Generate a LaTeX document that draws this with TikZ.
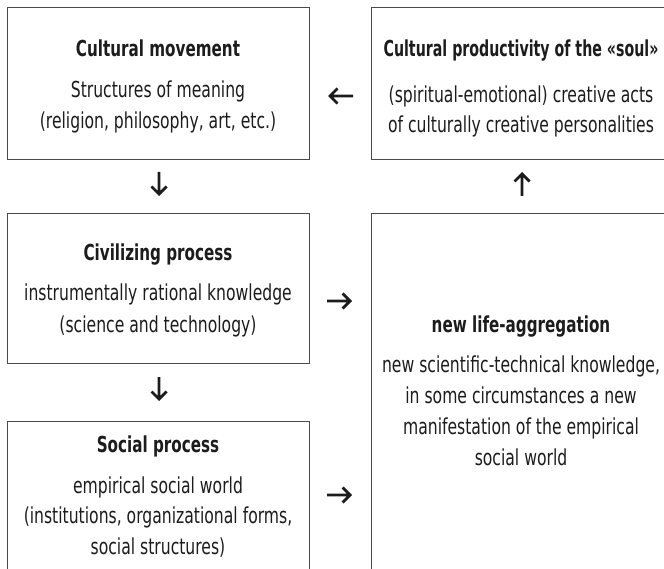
\documentclass[tikz,border=0pt]{standalone}
\usepackage{graphicx}
\usepackage{fontspec}
\setmainfont{DejaVu Sans}[FakeStretch=0.71, BoldFeatures={FakeStretch=0.69}]
\usetikzlibrary{calc}
\definecolor{ink}{HTML}{1C1C1C}
\definecolor{frame}{HTML}{4A4A4A}
\tikzset{flowfill/.style={fill=ink, draw=none}}
% solid arrow with a chevron head, drawn as one filled outline
% #1 = start, #2 = tip, #3 = direction (1 right, -1 left)
\newcommand\flowH[3]{%
  \fill[flowfill] (#2)
    -- ([xshift={-8.5pt*(#3)}, yshift=8.5pt]#2)
    -- ([xshift={-10.48pt*(#3)}, yshift=6.52pt]#2)
    -- ([xshift={-5.36pt*(#3)}, yshift=1.4pt]#2)
    -- ([yshift=1.4pt]#1) -- ([yshift=-1.4pt]#1)
    -- ([xshift={-5.36pt*(#3)}, yshift=-1.4pt]#2)
    -- ([xshift={-10.48pt*(#3)}, yshift=-6.52pt]#2)
    -- ([xshift={-8.5pt*(#3)}, yshift=-8.5pt]#2) -- cycle;}
% #1 = start, #2 = tip, #3 = direction (1 down, -1 up)
\newcommand\flowV[3]{%
  \fill[flowfill] (#2)
    -- ([yshift={8.5pt*(#3)}, xshift=8.5pt]#2)
    -- ([yshift={10.48pt*(#3)}, xshift=6.52pt]#2)
    -- ([yshift={5.36pt*(#3)}, xshift=1.4pt]#2)
    -- ([xshift=1.4pt]#1) -- ([xshift=-1.4pt]#1)
    -- ([yshift={5.36pt*(#3)}, xshift=-1.4pt]#2)
    -- ([yshift={10.48pt*(#3)}, xshift=-6.52pt]#2)
    -- ([yshift={8.5pt*(#3)}, xshift=-8.5pt]#2) -- cycle;}
\begin{document}
\begin{tikzpicture}[x=1pt,y=-1pt,
  box/.style={draw=frame, line width=1.1pt, rectangle, inner sep=0pt, anchor=north west},
  ttl/.style={anchor=base, inner sep=0pt, text=ink, font=\fontsize{22}{31}\selectfont\bfseries},
  txt/.style={anchor=base, inner sep=0pt, text=ink, font=\fontsize{22}{31}\selectfont}]
\useasboundingbox (0,0) rectangle (664,569);
\clip (0,0) rectangle (664,569);

% frames
\node[box, minimum width=302pt, minimum height=152pt] (cult) at (7,7) {};
\node[box, minimum width=300pt, minimum height=152pt] (soul) at (371,7) {};
\node[box, minimum width=302pt, minimum height=150pt] (civ) at (7,213) {};
\node[box, minimum width=302pt, minimum height=170pt] (soc) at (7,421) {};
\node[box, minimum width=300pt, minimum height=380pt] (life) at (371,213) {};

% Cultural movement
\node[ttl] (cultT) at (158,57) {Cultural movement};
\node[txt] (cult1) at (158,98) {Structures of meaning};
\node[txt] (cult2) at (158,129) {(religion, philosophy, art, etc.)};

% Cultural productivity (title narrowed to stay inside the frame)
\node[ttl] (soulT) at (521,57) {\scalebox{0.935}[1]{Cultural productivity of the «soul»}};
\node[txt] (soul1) at (521,103) {(spiritual-emotional) creative acts};
\node[txt] (soul2) at (521,133) {of culturally creative personalities};

% Civilizing process
\node[ttl] (civT) at (158,261) {Civilizing process};
\node[txt] (civ1) at (158,301) {instrumentally rational knowledge};
\node[txt] (civ2) at (158,332) {(science and technology)};

% Social process
\node[ttl] (socT) at (158,452) {Social process};
\node[txt] (soc1) at (158,493) {empirical social world};
\node[txt] (soc2) at (158,523) {(institutions, organizational forms,};
\node[txt] (soc3) at (158,554) {social structures)};

% new life-aggregation
\node[ttl] (lifeT) at (521,333) {new life-aggregation};
\node[txt] (life1) at (521,372) {new scientific-technical knowledge,};
\node[txt] (life2) at (521,403) {in some circumstances a new};
\node[txt] (life3) at (521,434) {manifestation of the empirical};
\node[txt] (life4) at (521,465) {social world};

% arrow end points between the frames
\coordinate (sc) at (353,96);   \coordinate (cc) at (328,96);
\coordinate (cd1) at (159,172); \coordinate (cd2) at (159,196);
\coordinate (vd1) at (159,377); \coordinate (vd2) at (159,401);
\coordinate (lu1) at (522,196); \coordinate (lu2) at (522,172);
\coordinate (vr1) at (327,301); \coordinate (vr2) at (352,301);
\coordinate (sr1) at (327,495); \coordinate (sr2) at (352,495);

\flowH{sc}{cc}{-1}
\flowV{cd1}{cd2}{1}
\flowV{vd1}{vd2}{1}
\flowV{lu1}{lu2}{-1}
\flowH{vr1}{vr2}{1}
\flowH{sr1}{sr2}{1}
\end{tikzpicture}
\end{document}
